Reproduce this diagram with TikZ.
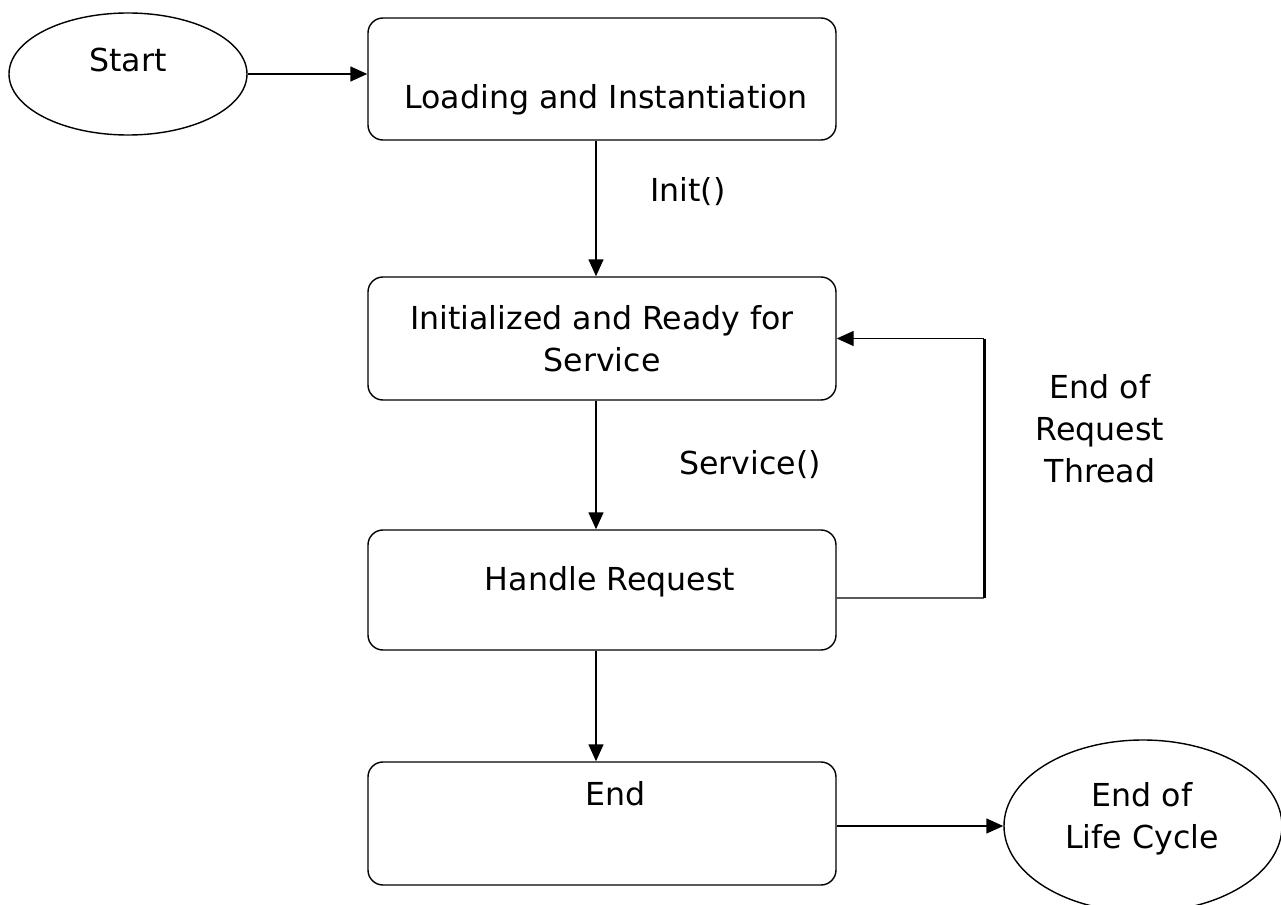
\documentclass[tikz,border=0pt]{standalone}
\usepackage{fontspec}
\setmainfont{DejaVu Sans}
\usetikzlibrary{shapes.geometric,arrows.meta}
\begin{document}
\begin{tikzpicture}[line width=0.8pt,
    every node/.style={font=\fontsize{18}{24}\selectfont, align=center},
    term/.style={ellipse, draw},
    stage/.style={draw, rounded corners=0.3cm, minimum width=9.36cm},
    flow/.style={-{Triangle[length=0.34cm,width=0.3cm]}}]
      \useasboundingbox (0,0) rectangle (25.62,-18.1);
      \node (start) at (2.56,-1.48) [term, minimum width=4.76cm, minimum height=2.44cm] {};
      \node (startT) at (2.56,-1.2) {Start};

      \node (load) at (12.04,-1.58) [stage, minimum height=2.44cm] {};
      \node (loadT) at (12.12,-2.0) {Loading and Instantiation};
      \node (ready) at (12.04,-6.77) [stage, minimum height=2.46cm] {Initialized and Ready for\\Service};
      \node (handle) at (12.04,-11.8) [stage, minimum height=2.4cm] {};
      \node (handleT) at (12.2,-11.64) {Handle Request};
      \node (fin) at (12.04,-16.47) [stage, minimum height=2.46cm] {};
      \node (finT) at (12.32,-15.88) {End};

      \node (life) at (22.86,-16.52) [term, minimum width=5.56cm, minimum height=3.44cm] {};
      \node (lifeT) at (22.84,-16.38) {End of\\Life Cycle};

      \node (init) at (13.76,-3.84) {Init()};
      \node (serv) at (15.0,-9.3) {Service()};
      \node (eor) at (22.0,-8.58) {End of\\Request\\Thread};

      \coordinate (back) at (19.68,-11.96);

      \draw[flow] (start.east) -- (start.east -| load.west);
      \draw[flow] ([xshift=-0.12cm]load.south) -- ([xshift=-0.12cm]ready.north);
      \draw[flow] ([xshift=-0.12cm]ready.south) -- ([xshift=-0.12cm]handle.north);
      \draw[flow] ([xshift=-0.12cm]handle.south) -- ([xshift=-0.12cm]fin.north);
      \draw ([yshift=-0.16cm]handle.east) -- (back);
      \draw[line width=1.7pt] (back) -- (back |- ready.east);
      \draw[flow] (back |- ready.east) -- (ready.east);
      \draw[flow] (fin.east |- life.west) -- (life.west);
    \end{tikzpicture}
\end{document}
